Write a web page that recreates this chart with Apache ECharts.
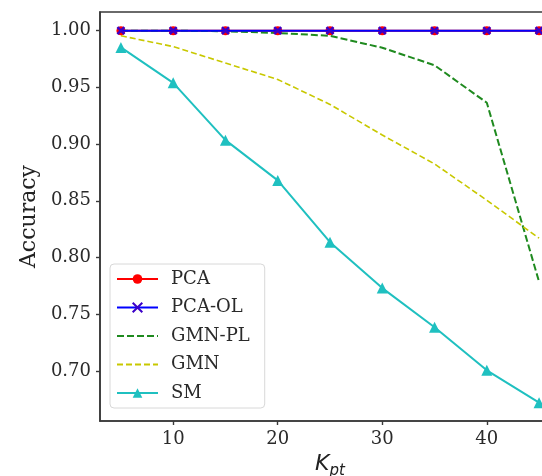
<!DOCTYPE html>
<html>
<head>
<meta charset="utf-8">
<script src="https://cdn.jsdelivr.net/npm/echarts@6/dist/echarts.min.js"></script>
<style>
html,body{margin:0;padding:0;background:#fff;overflow:hidden;width:542px;height:476px;}
#chart{width:600px;height:476px;}
</style>
</head>
<body>
<div id="chart"></div>
<script>
var kpt = [5, 10, 15, 20, 25, 30, 35, 40, 45];
var pca = [1.0, 1.0, 1.0, 1.0, 1.0, 1.0, 1.0, 1.0, 1.0];
var pcaOL = [1.0, 1.0, 1.0, 1.0, 1.0, 1.0, 1.0, 1.0, 1.0];
var gmnPL = [1.0, 1.0, 0.9995, 0.998, 0.9955, 0.985, 0.9695, 0.9365, 0.7785];
var gmn = [0.9955, 0.986, 0.9715, 0.957, 0.935, 0.908, 0.8825, 0.8505, 0.817];
var sm = [0.9853, 0.954, 0.9035, 0.868, 0.8135, 0.773, 0.7385, 0.7005, 0.672];
var xTicks = [10, 20, 30, 40];
var yTicks = [0.70, 0.75, 0.80, 0.85, 0.90, 0.95, 1.00];

function pairs(ys) { return kpt.map(function (x, i) { return [x, ys[i]]; }); }

var serif = 'DejaVu Serif';
var xMark = 'path://M0,0L10,10M10,0L0,10';

var chart = echarts.init(document.getElementById('chart'), null, {renderer: 'canvas'});
chart.setOption({
  animation: false,
  backgroundColor: '#fff',
  grid: {left: 100, top: 12, width: 460, height: 409, show: true, outerBoundsMode: 'none', containLabel: false,
         borderColor: '#3a3a3a', borderWidth: 1.6, backgroundColor: 'transparent'},
  xAxis: {
    type: 'value', min: 3, max: 47,
    name: '{k|K}{s|pt}', nameLocation: 'middle', nameGap: 27,
    nameTextStyle: {
      rich: {
        k: {fontFamily: 'DejaVu Sans', fontStyle: 'italic', fontSize: 22, color: '#222', verticalAlign: 'top', lineHeight: 26},
        s: {fontFamily: 'DejaVu Sans', fontStyle: 'italic', fontSize: 15, color: '#222', verticalAlign: 'bottom', lineHeight: 26, padding: [10, 0, 0, 0]}
      }
    },
    axisLine: {show: true, lineStyle: {color: '#3a3a3a', width: 1.6}},
    axisTick: {show: true, customValues: xTicks, length: 4, lineStyle: {color: '#3a3a3a', width: 1.4}},
    axisLabel: {customValues: xTicks, margin: 9, fontFamily: serif, fontSize: 18, color: '#2a2a2a'},
    splitLine: {show: false}
  },
  yAxis: {
    type: 'value', min: 0.6558, max: 1.0165,
    name: 'Accuracy', nameLocation: 'middle', nameGap: 60,
    nameTextStyle: {fontFamily: serif, fontSize: 22, color: '#222'},
    axisLine: {show: true, lineStyle: {color: '#3a3a3a', width: 1.6}},
    axisTick: {show: true, customValues: yTicks, length: 4, lineStyle: {color: '#3a3a3a', width: 1.4}},
    axisLabel: {customValues: yTicks, margin: 9, fontFamily: serif, fontSize: 18, color: '#2a2a2a',
                formatter: function (v) { return v.toFixed(2); }},
    splitLine: {show: false}
  },
  legend: {
    orient: 'vertical', left: 110, top: 264,
    padding: [6, 15, 6, 6],
    backgroundColor: 'rgba(255,255,255,0.85)', borderColor: '#d8d8d8', borderWidth: 1, borderRadius: 4,
    itemWidth: 41, itemHeight: 12, itemGap: 10.5,
    textStyle: {fontFamily: serif, fontSize: 18, color: '#2a2a2a', lineHeight: 18, padding: [0, 0, 0, 8]},
    data: [
      {name: 'PCA'},
      {name: 'PCA-OL'},
      {name: 'GMN-PL', itemStyle: {opacity: 0}},
      {name: 'GMN', itemStyle: {opacity: 0}},
      {name: 'SM'}
    ]
  },
  series: [
    {name: 'PCA', type: 'line', data: pairs(pca), symbol: 'circle', symbolSize: 9,
     lineStyle: {color: '#ff0000', width: 2}, itemStyle: {color: '#ff0000'}, z: 2},
    {name: 'PCA-OL', type: 'line', data: pairs(pcaOL), symbol: xMark, symbolSize: 7,
     lineStyle: {color: '#0000ff', width: 2},
     itemStyle: {color: '#0000ff', borderColor: '#3b00c8', borderWidth: 2.5}, z: 3},
    {name: 'GMN-PL', type: 'line', data: pairs(gmnPL), symbol: 'none',
     lineStyle: {color: '#1f8a1f', width: 2, type: [7, 3]}, itemStyle: {color: '#1f8a1f'}, z: 2},
    {name: 'GMN', type: 'line', data: pairs(gmn), symbol: 'none',
     lineStyle: {color: '#c8c800', width: 1.6, type: [6, 3]}, itemStyle: {color: '#c8c800'}, z: 2},
    {name: 'SM', type: 'line', data: pairs(sm), symbol: 'triangle', symbolSize: 11,
     lineStyle: {color: '#1fc0c0', width: 2}, itemStyle: {color: '#1fc0c0'}, z: 2}
  ]
});
</script>
</body>
</html>
